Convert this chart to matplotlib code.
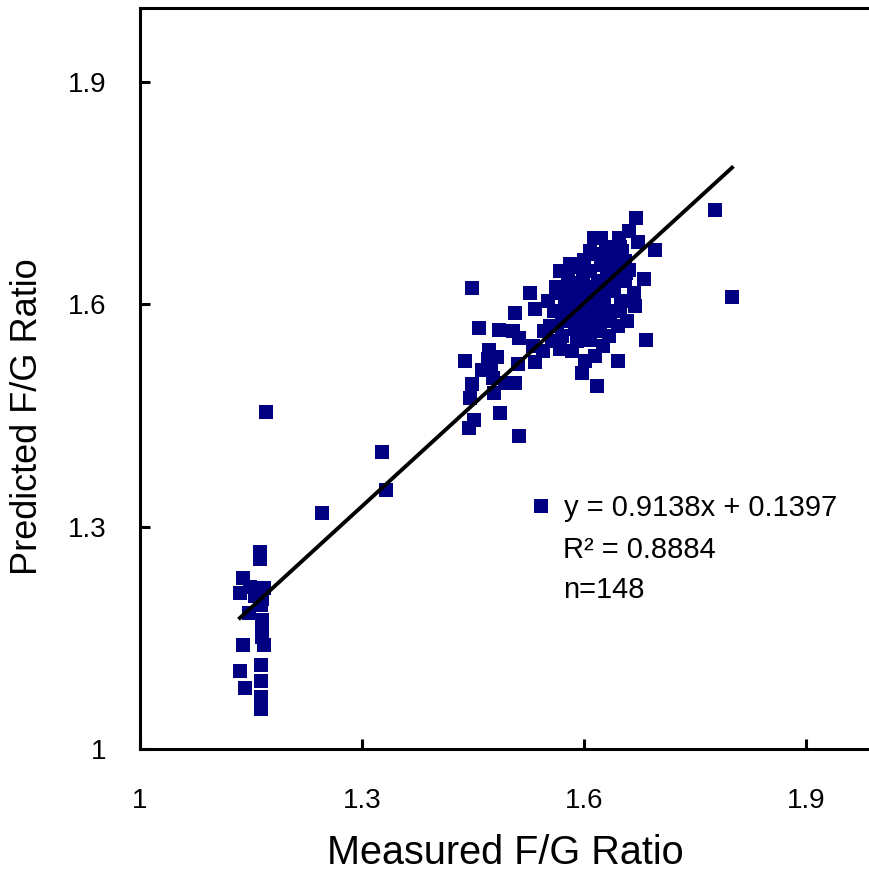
import numpy as np
import matplotlib
matplotlib.use("Agg")
import matplotlib.pyplot as plt
from matplotlib.lines import Line2D

plt.rcParams['font.family'] = ['Liberation Sans', 'DejaVu Sans']

# measured vs predicted F/G ratio
measured = [
    1.162, 1.162, 1.139, 1.135, 1.149, 1.159, 1.168, 1.147, 1.164, 1.165,
    1.165, 1.165, 1.139, 1.168, 1.164, 1.135, 1.142, 1.164, 1.164, 1.164,
    1.155, 1.165,
    1.170, 1.246, 1.327, 1.332,
    1.449, 1.527, 1.534, 1.507, 1.458, 1.485, 1.504, 1.512, 1.531, 1.472,
    1.439, 1.482, 1.462, 1.474, 1.511, 1.534, 1.477, 1.449, 1.493, 1.507,
    1.446, 1.478, 1.451, 1.486, 1.445, 1.512, 1.470,
    1.600, 1.619, 1.623, 1.568, 1.566, 1.559, 1.554, 1.568, 1.584, 1.608,
    1.620, 1.597, 1.618, 1.614, 1.623, 1.647, 1.661, 1.670, 1.673, 1.696,
    1.635, 1.649, 1.661, 1.681, 1.628, 1.639, 1.668, 1.669, 1.628, 1.639,
    1.658, 1.684, 1.646, 1.777, 1.800, 1.607,
    1.578, 1.588, 1.599, 1.608, 1.581, 1.592, 1.603, 1.614, 1.574, 1.584,
    1.595, 1.605, 1.616, 1.577, 1.588, 1.599, 1.611, 1.622, 1.627, 1.595,
    1.570, 1.546, 1.551, 1.545, 1.562, 1.581, 1.608, 1.630, 1.638, 1.651,
    1.641, 1.650, 1.646, 1.634, 1.626, 1.655, 1.615, 1.601, 1.591, 1.557,
    1.622,
    1.588, 1.601, 1.581, 1.608, 1.619, 1.631, 1.642, 1.655, 1.592, 1.570,
    1.564, 1.615, 1.649, 1.657, 1.649, 1.635, 1.608, 1.595,
]
predicted = [
    1.266, 1.257, 1.231, 1.210, 1.219, 1.217, 1.217, 1.183, 1.194, 1.174,
    1.160, 1.151, 1.140, 1.140, 1.114, 1.105, 1.083, 1.092, 1.070, 1.054,
    1.207, 1.203,
    1.455, 1.319, 1.401, 1.350,
    1.622, 1.616, 1.594, 1.588, 1.568, 1.565, 1.564, 1.555, 1.544, 1.538,
    1.524, 1.529, 1.511, 1.517, 1.520, 1.522, 1.501, 1.493, 1.494, 1.494,
    1.474, 1.480, 1.444, 1.454, 1.433, 1.423, 1.526,
    1.660, 1.668, 1.653, 1.645, 1.616, 1.591, 1.571, 1.540, 1.537, 1.552,
    1.577, 1.507, 1.490, 1.689, 1.689, 1.689, 1.699, 1.716, 1.684, 1.673,
    1.657, 1.651, 1.646, 1.634, 1.631, 1.631, 1.615, 1.598, 1.591, 1.591,
    1.577, 1.552, 1.524, 1.727, 1.610, 1.552,
    1.638, 1.629, 1.634, 1.624, 1.615, 1.607, 1.604, 1.611, 1.598, 1.588,
    1.583, 1.575, 1.598, 1.577, 1.567, 1.561, 1.588, 1.615, 1.604, 1.618,
    1.557, 1.564, 1.604, 1.537, 1.624, 1.655, 1.645, 1.678, 1.672, 1.672,
    1.618, 1.604, 1.571, 1.557, 1.544, 1.631, 1.530, 1.524, 1.550, 1.550,
    1.567,
    1.604, 1.591, 1.629, 1.604, 1.631, 1.646, 1.661, 1.658, 1.651, 1.580,
    1.571, 1.564, 1.591, 1.642, 1.678, 1.577, 1.672, 1.598,
]

slope, intercept = 0.9138, 0.1397
r2 = 0.8884
ticks = [1, 1.3, 1.6, 1.9]
tick_labels = ['1', '1.3', '1.6', '1.9']

navy = '#000080'

fig = plt.figure(figsize=(8.69, 8.77), dpi=100)
ax = fig.add_axes([0.1611, 0.1459, 0.8516, 0.845])

ax.plot(measured, predicted, ls='none', marker='s', markersize=10.5,
        color=navy, markeredgewidth=0, zorder=2)

xfit = np.array([min(measured), max(measured)])
ax.plot(xfit, slope * xfit + intercept, color='black', lw=2.8, zorder=3)

ax.set_xlim(1, 2)
ax.set_ylim(1, 2)
ax.set_xticks(ticks)
ax.set_xticklabels(tick_labels)
ax.set_yticks(ticks)
ax.set_yticklabels(tick_labels)

for s in ax.spines.values():
    s.set_linewidth(2.2)
ax.tick_params(direction='in', length=7, width=2.2, labelsize=20)
ax.tick_params(axis='y', pad=24)
ax.tick_params(axis='x', pad=28)

ax.set_xlabel('Measured F/G Ratio', fontsize=28.5)
ax.xaxis.set_label_coords(0.493, -0.114)
ax.set_ylabel('Predicted F/G Ratio', fontsize=26)
ax.yaxis.set_label_coords(-0.128, 0.449)

handle = Line2D([], [], ls='none', marker='s', markersize=10.5,
                color=navy, markeredgewidth=0)
ax.legend([handle], [f'y = {slope:.4f}x + {intercept:.4f}'],
          loc='center left', bbox_to_anchor=(0.531, 0.325),
          frameon=False, fontsize=21, handlelength=0.55,
          handletextpad=0.5, borderpad=0, borderaxespad=0)
ax.text(0.5716, 0.2686, f'R\u00b2 = {r2:.4f}', transform=ax.transAxes,
        fontsize=21, va='center', ha='left')
ax.text(0.5716, 0.2146, f'n={len(measured)}', transform=ax.transAxes,
        fontsize=21, va='center', ha='left')

fig.savefig('out.png', dpi=100)
